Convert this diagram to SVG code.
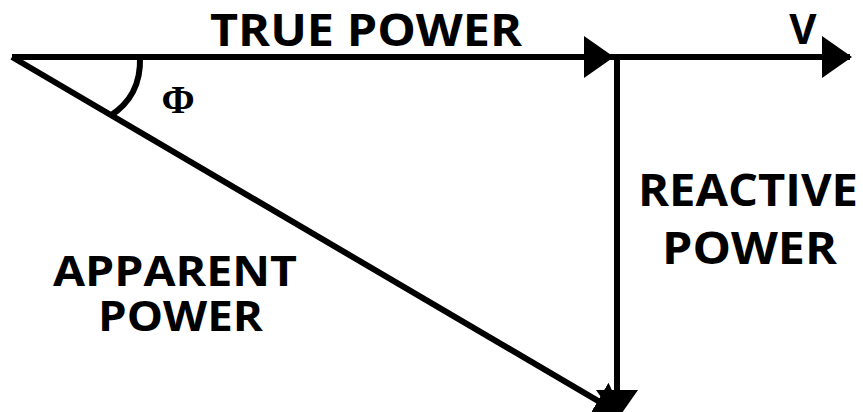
<svg xmlns="http://www.w3.org/2000/svg" width="863" height="412" viewBox="0 0 863 412">
<style>
.ln{stroke:#000;stroke-width:6;fill:none}
.lbl{font-family:"Open Sans","Liberation Sans",sans-serif;font-weight:700;font-size:42px;fill:#000}
.ph{font-family:"Liberation Serif",serif;font-weight:700;font-size:40px;fill:#000}
</style>
<defs>
<marker id="ah" markerUnits="userSpaceOnUse" markerWidth="30" markerHeight="42" refX="28" refY="21" orient="auto" viewBox="0 0 30 42">
<path d="M0,0 L30,21 L0,42 Z" fill="#000"/>
</marker>
</defs>
<rect width="863" height="412" fill="#fff"/>
<g id="connectors">
<line class="ln" x1="12" y1="57" x2="612" y2="57" marker-end="url(#ah)"/>
<line class="ln" x1="612" y1="57" x2="850" y2="57" marker-end="url(#ah)"/>
<line class="ln" x1="617" y1="55" x2="617" y2="418" marker-end="url(#ah)"/>
<line class="ln" x1="12" y1="57" x2="622" y2="415" marker-end="url(#ah)"/>
<path class="ln" d="M140,57 C141,85 130,103 110,116"/>
</g>
<g id="true-power"><text class="lbl" x="210" y="46" textLength="312" lengthAdjust="spacingAndGlyphs" style="font-size:44px">TRUE POWER</text></g>
<g id="v"><text class="lbl" x="803" y="44" text-anchor="middle">V</text></g>
<g id="phi"><text class="ph" x="178" y="113" text-anchor="middle">Φ</text></g>
<g id="apparent-power"><text class="lbl" x="53" y="286" textLength="244" lengthAdjust="spacingAndGlyphs">APPARENT</text><text class="lbl" x="98" y="331" textLength="165" lengthAdjust="spacingAndGlyphs">POWER</text></g>
<g id="reactive-power"><text class="lbl" x="638" y="206" textLength="220" lengthAdjust="spacingAndGlyphs" style="font-size:44px">REACTIVE</text><text class="lbl" x="662" y="264" textLength="175" lengthAdjust="spacingAndGlyphs" style="font-size:44px">POWER</text></g>
</svg>
